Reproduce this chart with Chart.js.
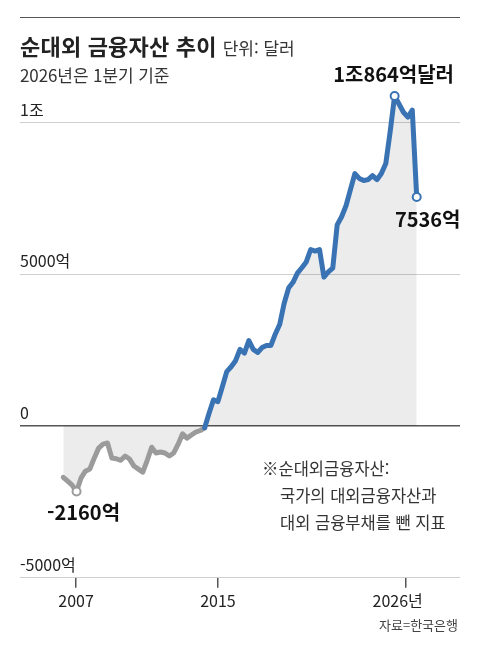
<!DOCTYPE html>
<html lang="ko">
<head>
<meta charset="utf-8">
<title>순대외 금융자산 추이</title>
<script src="https://cdn.jsdelivr.net/npm/chart.js@4.4.1/dist/chart.umd.min.js"></script>
<style>
  body { margin: 0; background: #fff; }
  #wrap { position: relative; width: 480px; height: 650px; overflow: hidden;
          font-family: "Noto Sans CJK KR", sans-serif; color: #222; }
  #box { position: absolute; left: 0; top: 0; width: 480px; height: 650px; }
  .txt { position: absolute; white-space: nowrap; }
  #rule { position: absolute; left: 20px; top: 17px; width: 440px; border-top: 1.5px solid #555; }
  #titulo { left: 20px; top: 31px; font-size: 22px; font-weight: bold; line-height: 28px; letter-spacing: 0.2px; }
  #titulo span { font-size: 17px; font-weight: normal; color: #333; margin-left: 6px; letter-spacing: 0; }
  #sub { left: 20px; top: 64px; font-size: 17px; line-height: 22px; color: #333; letter-spacing: -0.1px; }
  #nota { left: 262px; top: 455px; font-size: 16.5px; line-height: 27px; color: #333; }
  #nota div { padding-left: 18px; }
  #fonte { right: 22px; top: 616px; font-size: 13px; line-height: 18px; color: #444; }
</style>
</head>
<body>
<div id="wrap">
  <div id="box"><canvas id="grafico"></canvas></div>
  <div id="rule"></div>
  <div class="txt" id="titulo">순대외 금융자산 추이<span>단위: 달러</span></div>
  <div class="txt" id="sub">2026년은 1분기 기준</div>
  <div class="txt" id="nota">※순대외금융자산:<div>국가의 대외금융자산과</div><div>대외 금융부채를 뺀 지표</div></div>
  <div class="txt" id="fonte">자료=한국은행</div>
</div>
<script>
// 분기별 순대외금융자산 (억달러), 2006년 1분기 ~ 2026년 1분기
var valores = [
  -1690, -1820, -1950, -2160, -1720, -1490, -1420, -1060, -730, -600,
  -560, -1060, -1080, -1130, -990, -1090, -1320, -1420, -1520, -1130,
  -700, -890, -860, -890, -990, -890, -600, -260, -400, -300,
  -200, -150, -60, 420, 860, 800, 1290, 1790, 1950, 2150,
  2520, 2400, 2810, 2520, 2420, 2580, 2650, 2650, 3030, 3350,
  4040, 4540, 4730, 5030, 5210, 5400, 5810, 5760, 5810, 4900,
  5070, 5200, 6620, 6890, 7250, 7780, 8310, 8150, 8080, 8110,
  8240, 8110, 8310, 8640, 9700, 10864, 10600, 10330, 10170, 10400,
  7536
];

// x축 눈금 (분기 순번 기준 위치)과 라벨
var posicoesX = [2.9, 35, 77.5];
var rotulosX = ['2007', '2015', '2026년\u2002\u2002'];

// y축 눈금과 라벨
var posicoesY = [-5000, 0, 5000, 10000];
var rotulosY = ['-5000억', '0', '5000억', '1조'];

// 표시할 점 (최저, 최고, 마지막)과 그 라벨
var destaques = [3, 75, 80];
var rotulosDestaque = ['-2160억', '1조864억달러', '7536억'];

var cinza = '#9b9b9b';
var azul = '#3a73b4';
var fonte = '"Noto Sans CJK KR", sans-serif';

var pontos = valores.map(function(v, i) {
    return { x: i, y: v };
});

// 점 옆에 숫자 라벨 그리기
var pluginRotulos = {
    id: 'rotulos',
    afterDatasetsDraw: function(chart) {
        var meta = chart.getDatasetMeta(0);
        var ctx = chart.ctx;
        var desloc = [[7, 21], [-1, -22], [11, 22]];
        ctx.save();
        ctx.font = 'bold 20px ' + fonte;
        ctx.fillStyle = '#111';
        ctx.textAlign = 'center';
        ctx.textBaseline = 'middle';
        destaques.forEach(function(idx, k) {
            var p = meta.data[idx];
            ctx.fillText(rotulosDestaque[k], p.x + desloc[k][0], p.y + desloc[k][1]);
        });
        ctx.restore();
    }
};

var meuGrafico = new Chart(document.getElementById('grafico'), {
    type: 'line',
    data: {
        datasets: [{
            data: pontos,
            borderWidth: 5,
            borderColor: azul,
            borderJoinStyle: 'round',
            borderCapStyle: 'round',
            fill: 'origin',
            backgroundColor: 'rgba(0,0,0,0.075)',
            tension: 0,
            clip: false,
            segment: {
                borderColor: function(c) {
                    return c.p1.parsed.y <= 0 ? cinza : azul;
                }
            },
            pointRadius: function(c) {
                return destaques.indexOf(c.dataIndex) >= 0 ? 4 : 0;
            },
            pointHoverRadius: 0,
            pointBackgroundColor: '#fff',
            pointBorderColor: function(c) {
                return c.dataIndex === 3 ? cinza : azul;
            },
            pointBorderWidth: 2
        }]
    },
    options: {
        responsive: true,
        maintainAspectRatio: false,
        animation: false,
        layout: { padding: { left: 20, right: 20, top: 60, bottom: 35 } },
        plugins: {
            legend: { display: false },
            tooltip: { enabled: false }
        },
        scales: {
            x: {
                type: 'linear',
                min: -9.8,
                max: 89.8,
                afterBuildTicks: function(scale) {
                    scale.ticks = posicoesX.map(function(v) { return { value: v }; });
                },
                ticks: {
                    autoSkip: false,
                    maxRotation: 0,
                    padding: 4,
                    color: '#222',
                    font: { size: 16, family: fonte },
                    callback: function(v) {
                        return rotulosX[posicoesX.indexOf(v)];
                    }
                },
                grid: {
                    drawOnChartArea: false,
                    drawTicks: true,
                    tickLength: 10,
                    color: '#555',
                    lineWidth: 1.5
                },
                border: { display: false }
            },
            y: {
                min: -5000,
                max: 12050,
                afterBuildTicks: function(scale) {
                    scale.ticks = posicoesY.map(function(v) { return { value: v }; });
                },
                ticks: {
                    mirror: true,
                    padding: 0,
                    color: '#222',
                    font: { size: 16, lineHeight: 1.6, family: fonte },
                    callback: function(v) {
                        return [rotulosY[posicoesY.indexOf(v)], ''];
                    }
                },
                grid: {
                    drawTicks: false,
                    color: function(c) {
                        return c.tick && c.tick.value === 0 ? '#555' : '#cfcfcf';
                    },
                    lineWidth: function(c) {
                        return c.tick && c.tick.value === 0 ? 1.5 : 1;
                    }
                },
                border: { display: false }
            }
        }
    },
    plugins: [pluginRotulos]
});
</script>
</body>
</html>
